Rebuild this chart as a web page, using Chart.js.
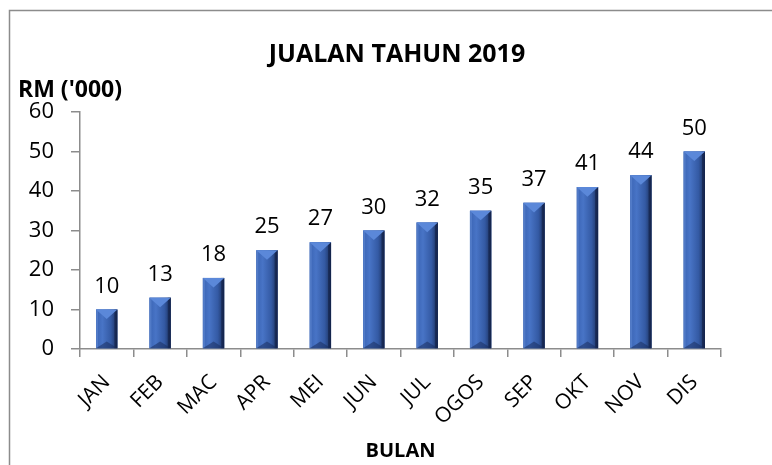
<!DOCTYPE html>
<html>
<head>
<meta charset="utf-8">
<script src="https://cdn.jsdelivr.net/npm/chart.js@4.4.1/dist/chart.umd.min.js"></script>
<style>
  html, body { margin: 0; padding: 0; background: #fff; }
  #wrap { width: 772px; height: 465px; }
</style>
</head>
<body>
<div id="wrap"><canvas id="jualanChart" width="772" height="465"></canvas></div>
<script>
const months = ['JAN', 'FEB', 'MAC', 'APR', 'MEI', 'JUN', 'JUL', 'OGOS', 'SEP', 'OKT', 'NOV', 'DIS'];
const sales = [10, 13, 18, 25, 27, 30, 32, 35, 37, 41, 44, 50];
const yTicks = [0, 10, 20, 30, 40, 50, 60];
const chartTitle = 'JUALAN TAHUN 2019';
const yTitle = "RM ('000)";
const xTitle = 'BULAN';

const FONT = '"Open Sans", Lato, sans-serif';

// bingkai carta
const framePlugin = {
    id: 'frame',
    beforeDraw(chart) {
        const ctx = chart.ctx;
        ctx.save();
        ctx.strokeStyle = '#8c8c8c';
        ctx.lineWidth = 1.5;
        ctx.strokeRect(9.5, 10.5, 800, 500);
        ctx.restore();
    }
};

// tajuk utama + label paksi Y
const titlesPlugin = {
    id: 'titles',
    afterDraw(chart) {
        const ctx = chart.ctx;
        ctx.save();
        ctx.fillStyle = '#000';
        ctx.textBaseline = 'alphabetic';
        ctx.font = 'bold 25px ' + FONT;
        ctx.textAlign = 'center';
        ctx.fillText(chartTitle, 397, 62);
        ctx.font = 'bold 23px ' + FONT;
        ctx.textAlign = 'left';
        ctx.fillText(yTitle, 18, 97);
        ctx.restore();
    }
};

// kesan bevel pada bar
const bevelPlugin = {
    id: 'bevel',
    afterDatasetsDraw(chart) {
        const ctx = chart.ctx;
        const meta = chart.getDatasetMeta(0);
        ctx.save();
        meta.data.forEach(bar => {
            const w = bar.width;
            const l = bar.x - w / 2, r = bar.x + w / 2;
            const t = bar.y, b = bar.base;
            const cx = bar.x;
            const h = Math.min(w * 0.45, (b - t) / 2);

            const g = ctx.createLinearGradient(l, 0, r, 0);
            g.addColorStop(0, '#3a64b4');
            g.addColorStop(0.3, '#4874c6');
            g.addColorStop(0.7, '#345aa4');
            g.addColorStop(1, '#1b2f5c');
            ctx.fillStyle = g;
            ctx.fillRect(l, t, w, b - t);

            // tepi kiri
            ctx.fillStyle = 'rgba(120,160,230,0.35)';
            ctx.fillRect(l, t, 2, b - t);
            // tepi kanan
            ctx.fillStyle = 'rgba(10,20,50,0.45)';
            ctx.fillRect(r - 3, t, 3, b - t);

            // bevel atas
            ctx.beginPath();
            ctx.moveTo(l, t);
            ctx.lineTo(r, t);
            ctx.lineTo(cx, t + h);
            ctx.closePath();
            ctx.fillStyle = '#5b88d9';
            ctx.fill();

            // bevel bawah
            ctx.beginPath();
            ctx.moveTo(l, b);
            ctx.lineTo(r, b);
            ctx.lineTo(cx, b - h * 0.7);
            ctx.closePath();
            ctx.fillStyle = 'rgba(25,45,95,0.55)';
            ctx.fill();
        });
        ctx.restore();
    }
};

// label nilai di atas bar
const valuePlugin = {
    id: 'values',
    afterDatasetsDraw(chart) {
        const ctx = chart.ctx;
        const meta = chart.getDatasetMeta(0);
        ctx.save();
        ctx.font = '22px ' + FONT;
        ctx.fillStyle = '#000';
        ctx.textAlign = 'center';
        ctx.textBaseline = 'alphabetic';
        meta.data.forEach((bar, i) => {
            ctx.fillText(String(sales[i]), bar.x, bar.y - 17);
        });
        ctx.restore();
    }
};

const ctx = document.getElementById('jualanChart');
new Chart(ctx, {
    type: 'bar',
    data: {
        labels: months,
        datasets: [{
            data: sales,
            backgroundColor: '#3a62ad',
            borderWidth: 0,
            categoryPercentage: 1,
            barPercentage: 0.4
        }]
    },
    options: {
        responsive: false,
        animation: false,
        events: [],
        layout: {
            padding: { top: 112, left: 10, right: 51, bottom: 0 }
        },
        plugins: {
            legend: { display: false },
            tooltip: { enabled: false }
        },
        scales: {
            x: {
                border: { color: '#8c8c8c', width: 1.5 },
                grid: {
                    display: true,
                    drawOnChartArea: false,
                    offset: true,
                    tickLength: 8,
                    color: '#8c8c8c',
                    lineWidth: 1.5
                },
                ticks: {
                    autoSkip: false,
                    maxRotation: 45,
                    minRotation: 45,
                    padding: 13,
                    color: '#000',
                    font: { family: FONT, size: 21 }
                },
                title: {
                    display: true,
                    text: xTitle,
                    color: '#000',
                    font: { family: FONT, size: 20, weight: 'bold' },
                    padding: { top: 0, bottom: 2 }
                },
                afterFit(scale) { scale.height = 116; }
            },
            y: {
                min: 0,
                max: 60,
                border: { color: '#8c8c8c', width: 1.5 },
                grid: {
                    display: true,
                    drawOnChartArea: false,
                    tickLength: 9,
                    color: '#8c8c8c',
                    lineWidth: 1.5
                },
                afterBuildTicks(scale) {
                    scale.ticks = yTicks.map(v => ({ value: v }));
                },
                ticks: {
                    padding: 17,
                    color: '#000',
                    font: { family: FONT, size: 22 }
                },
                afterFit(scale) { scale.width = 70; }
            }
        }
    },
    plugins: [framePlugin, titlesPlugin, bevelPlugin, valuePlugin]
});
</script>
</body>
</html>
